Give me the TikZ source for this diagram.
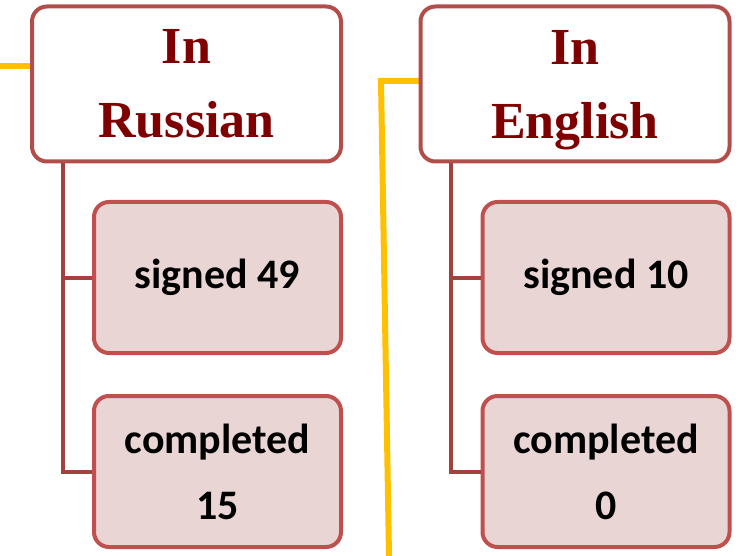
\documentclass[tikz,border=0pt]{standalone}
\usepackage{fontspec}
\setmainfont{Liberation Serif}
\newfontfamily\calfont{Carlito}
\usetikzlibrary{positioning}

\definecolor{hdrtext}{HTML}{7F0000}
\definecolor{hdrline}{HTML}{B24E4A}
\definecolor{boxline}{HTML}{C0504D}
\definecolor{boxfill}{HTML}{EAD5D5}
\definecolor{linkcol}{HTML}{A2413E}
\definecolor{yel}{HTML}{FFC000}

\tikzset{
	header/.style={draw=hdrline, line width=4pt, rounded corners=15pt, fill=white,
		minimum width=309pt, minimum height=155pt, inner sep=0pt, align=center,
		text=hdrtext, font=\bfseries\fontsize{52}{74}\selectfont},
	count/.style={draw=boxline, line width=4pt, rounded corners=15pt, fill=boxfill,
		minimum width=247pt, minimum height=151pt, inner sep=0pt, align=center,
		font=\calfont\bfseries\fontsize{42}{66}\selectfont},
	link/.style={draw=linkcol, line width=4pt},
	yline/.style={draw=yel, line width=6pt}
}

\begin{document}
\begin{tikzpicture}[x=1pt, y=-1pt]
	\useasboundingbox (0,0) rectangle (744,556);

	% yellow lines behind
	\draw[yline] (0,66) -- (47,66);
	\draw[yline, line join=miter] (456,81) -- (381,81) -- (389,556);

	% Russian column
	\node[header] (rus) at (186.5,84) {In\\Russian};
	\node[count] (russig) at (217.5,277.5) {signed 49};
	\node[count] (rusdone) at (217.5,471.5) {completed\\15};

	% English column
	\node[header] (eng) at (575,84) {In\\\smash{English}};
	\node[count] (engsig) at (606,277.5) {signed 10};
	\node[count] (engdone) at (606,471.5) {completed\\0};

	% connectors
	\draw[link] ([xshift=33pt]rus.south west) |- (rusdone.west);
	\draw[link] ([xshift=33pt]rus.south west) |- (russig.west);
	\draw[link] ([xshift=32pt]eng.south west) |- (engdone.west);
	\draw[link] ([xshift=32pt]eng.south west) |- (engsig.west);

\end{tikzpicture}
\end{document}
